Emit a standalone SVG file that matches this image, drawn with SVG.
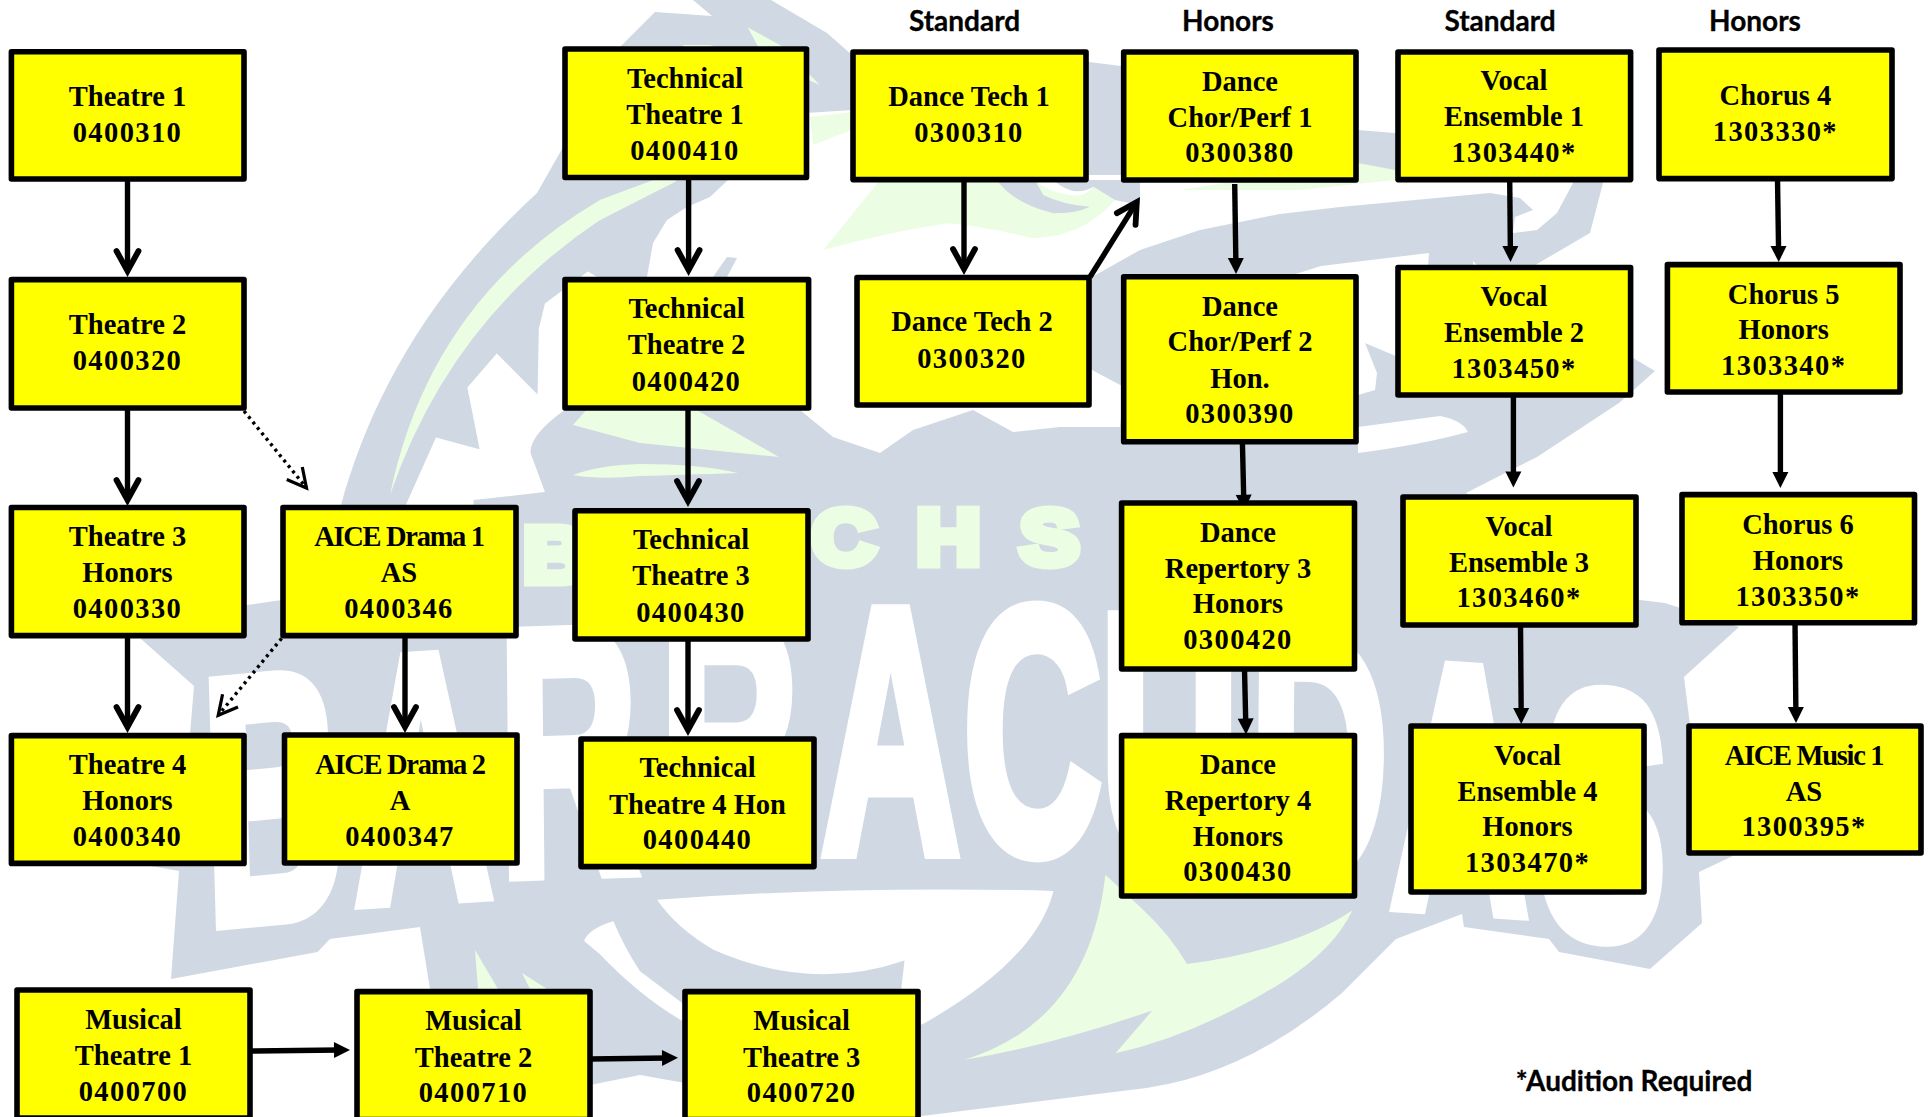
<svg xmlns="http://www.w3.org/2000/svg" width="1929" height="1117" viewBox="0 0 1929 1117">
<style>
.gray{fill:#d0d9e3}.wh{fill:#fff}.lime{fill:#ebfde3}
.box{fill:#ff0;stroke:#000;stroke-width:5.6;stroke-linejoin:round}
.t{font-family:"Liberation Serif",serif;font-weight:700;font-size:28.5px;text-anchor:middle;fill:#000;transform:translate(0,1px)}
.n{letter-spacing:1.4px}.a{letter-spacing:-1.3px}
.h{font-family:Lato,"Liberation Sans",sans-serif;font-weight:700;font-size:28px;text-anchor:middle;fill:#000;stroke:#000;stroke-width:.3px}
.c{fill:none;stroke:#000;stroke-width:5.4}
.o{marker-end:url(#open)}.f{marker-end:url(#fill)}
.d{fill:none;stroke:#000;stroke-width:3.4;stroke-dasharray:3 4;marker-end:url(#thin)}
.big{font-family:"Liberation Sans",sans-serif;font-weight:700;font-size:350px;fill:#fff;stroke:#fff;stroke-width:14}
.chs{font-family:"Liberation Sans",sans-serif;font-weight:700;font-size:77px;fill:#ebfde3;stroke:#ebfde3;stroke-width:9}
</style>
<defs>
<marker id="open" markerUnits="userSpaceOnUse" markerWidth="40" markerHeight="40" viewBox="0 0 40 40" refX="24" refY="20" orient="auto" overflow="visible"><path d="M4,9 L24,20 L4,31" fill="none" stroke="#000" stroke-width="5.8" stroke-linecap="round"/></marker>
<marker id="thin" markerUnits="userSpaceOnUse" markerWidth="40" markerHeight="40" viewBox="0 0 40 40" refX="24" refY="20" orient="auto" overflow="visible"><path d="M5,10 L24,20 L5,30" fill="none" stroke="#000" stroke-width="3.2"/></marker>
<marker id="fill" markerUnits="userSpaceOnUse" markerWidth="24" markerHeight="20" viewBox="0 0 24 20" refX="6" refY="10" orient="auto" overflow="visible"><path d="M0,2 L16,10 L0,18 Z" fill="#000"/></marker>
</defs>
<rect width="1929" height="1117" fill="#fff"/>
<g id="logo">
<path class="gray" d="M537,193 L620,47 L655,12 L712,16 L693,0 L771,0 L827,33 L860,62 L1089,62 L1121,66 L1358,130 L1395,133 L1574,150 L1603,183 L1590,233 L1537,264 L1500,300 L1633,358 L1655,371 L1619,403 L1537,457 L1466,493 L1600,590 L1640,600 L1665,603 L1739,627 L1684,677 L1690,725 L1735,855 L1699,872 L1702,923 L1650,969 L1559,952 L1549,939 L1464,927 L1462,914 L1396,939 L1342,993 Q1240,1080 1130,1090 L922,1116 L800,1117 L685,1083 L640,1075 L590,1085 L500,1050 L430,989 L420,927 L330,939 L317.5,952 L171,979 L179,871 L151,866 L190,734 L194,686 L141,639 L141,620 L282,600 L335,595 L341,505 C367,411 420,300 537,193 Z"/>
<path class="wh" d="M647,277 L653,243 L667,220 L687,207 L710,197 L728,180 L728,175 L1573,175 L1573,183 L1557,213 L1537,230 L1513,233 L1515,217 L1533,210 L1520,198 L1490,193 L1340,207 L1280,214 L1200,230 L1140,250 L1092,277 L1080,290 L1080,350 L1092,370 L1124,387 L1120,427 L1060,427 L1013,432 L973,410 L913,430 L880,453 L833,437 L800,410 L660,400 Z"/>
<path class="wh" d="M806,113 L853,110 L853,182 L806,182 Z"/>
<path class="wh" d="M1280,279 L1321,266 L1429,253 L1428,267 L1473,267 L1473,261 L1480,268 L1398,300 L1398,357 L1365,343 L1377,373 L1375,390 L1358,395 L1300,395 Z"/>
<path class="wh" d="M1358,427 L1440,416 Q1462,420 1468,432 Q1420,445 1358,453 Z"/>
<g transform="translate(0,0) scale(.4082,.3571)"><path class="wh" d="M990,1425 L1068,1225 L1175,1258 L1145,1085 L1217,990 L1317,1105 L1320,920 L1335,850 L1440,760 L1500,800 L1500,1147 L1385,1147 Q1295,1220 1300,1270 L1335,1378 L1160,1400 L1160,1425 Z"/></g>
<g transform="translate(640,557) scale(.4082,.3571)">
<path class="wh" d="M42,960 Q500,920 1013,935 Q970,1130 690,1310 L640,1210 L648,1130 Q420,1220 180,1100 Q90,1040 42,960 Z"/>
<path class="wh" d="M-65,1020 Q-40,1090 0,1160 L105,1250 L105,1300 Q0,1230 -100,1110 L-137,1075 Q-125,1040 -65,1020 Z"/>
<path class="lime" d="M1140,890 L1230,985 Q1300,1060 1340,1140 Q1600,1100 1745,990 Q1700,1100 1568,1195 Q1360,1340 1165,1390 L1255,1270 Q1000,1370 795,1408 Q1100,1300 1140,890 Z"/>
</g>
<text class="big" transform="scale(.55,1)" x="376 645 909 1200 1493 1751 2000 2269 2527 2793" y="925 903 875 860 852 852 858 875 905 930" rotate="-3 -2 -1 0 0 0 0 1 2 3">BARRACUDAS</text>
<text class="chs" transform="scale(1.15,1)" x="455 706 797 887" y="582 564 564 564">BCHS</text>
<g class="lime">
<path d="M390,495 Q430,300 600,200 L655,180 L677,181 L600,220 Q450,320 390,495 Z"/>
<path d="M573,425 L588,408 L693,408 L779,457 L640,443 Z"/>
<path d="M573,475 Q600,465 640,464 Q700,464 738,473 Q680,475 640,476 Q600,480 573,475 Z"/>
<path d="M810,117 L852,112 L852,130 L813,145 Z"/>
<path d="M1180,190 L1358,163 L1395,170 L1395,180 L1300,190 Z"/>
<path d="M475,950 L498,989 L478,989 Z M522,973 L547,989 L530,989 Z"/>
<g transform="translate(600,0) scale(.3333)"><path d="M443,82 L540,135 L660,255 L625,240 L625,150 L480,150 Z M250,135 L330,135 L370,150 L250,150 Z M0,600 L160,540 L230,540 L0,660 Z"/></g>
<g transform="translate(800,170) scale(.3333)"><path d="M240,30 L70,240 Q250,190 440,160 Q530,165 700,205 Q850,200 945,90 L880,50 Q850,85 810,75 Q740,65 705,30 Z"/></g>
</g>
<g class="gray">
<g transform="translate(800,170) scale(.3333)"><path d="M590,30 Q640,100 760,130 Q830,130 870,110 Q790,105 730,75 L705,30 Z M760,30 Q820,85 880,50 L870,30 Z M870,30 L880,50 L945,90 L1020,105 L1020,30 Z"/></g>
<path d="M727,257 L737,258 L727,277 L713,277 Z"/>
</g>
</g>
<g id="connectors">
<line class="c o" x1="127.5" y1="179" x2="127.5" y2="271"/>
<line class="c o" x1="127.5" y1="408" x2="127.5" y2="500"/>
<line class="c o" x1="127.5" y1="636" x2="127.5" y2="727"/>
<line class="c o" x1="405" y1="636" x2="405" y2="727"/>
<line class="c o" x1="688.6" y1="178" x2="688.6" y2="270"/>
<line class="c o" x1="688" y1="408" x2="688" y2="501"/>
<line class="c o" x1="688" y1="639" x2="688" y2="730"/>
<line class="c o" x1="964" y1="180" x2="964" y2="269"/>
<line class="c o" x1="1090" y1="277" x2="1136.8" y2="202"/>
<line class="d" x1="244" y1="411" x2="306.5" y2="488"/>
<line class="d" x1="281.6" y1="638.4" x2="218.2" y2="715.3"/>
<line class="c f" x1="1234.7" y1="184" x2="1235.9" y2="264"/>
<line class="c f" x1="1242.4" y1="442" x2="1243.8" y2="500.7"/>
<line class="c f" x1="1244.5" y1="669" x2="1245.8" y2="724.5"/>
<line class="c f" x1="1509.7" y1="178" x2="1510.4" y2="252"/>
<line class="c f" x1="1513.4" y1="395" x2="1513.4" y2="477.5"/>
<line class="c f" x1="1520.5" y1="625" x2="1521.2" y2="714"/>
<line class="c f" x1="1777.5" y1="178" x2="1778.6" y2="252"/>
<line class="c f" x1="1780.4" y1="392" x2="1780.4" y2="478"/>
<line class="c f" x1="1795" y1="622" x2="1795.9" y2="713"/>
<line class="c f" x1="250" y1="1051" x2="340" y2="1050"/>
<line class="c f" x1="590" y1="1059" x2="668" y2="1058"/>
</g>
<g id="headers">
<text class="h" x="964.5" y="31">Standard</text>
<text class="h" x="1228" y="31">Honors</text>
<text class="h" x="1500" y="31">Standard</text>
<text class="h" x="1755" y="31">Honors</text>
<text class="h" x="1634" y="1091">*Audition Required</text>
</g>
<g id="theatre1"><rect class="box" x="11.4" y="51.8" width="232.6" height="127.2"/><text class="t"><tspan x="127.5" y="104.6">Theatre 1</tspan><tspan class="n" x="127.5" y="141">0400310</tspan></text></g>
<g id="theatre2"><rect class="box" x="11.4" y="279.6" width="232.6" height="128.4"/><text class="t"><tspan x="127.5" y="333">Theatre 2</tspan><tspan class="n" x="127.5" y="369">0400320</tspan></text></g>
<g id="theatre3"><rect class="box" x="11.4" y="507.5" width="232.6" height="128.1"/><text class="t"><tspan x="127.5" y="544.6">Theatre 3</tspan><tspan x="127.5" y="581">Honors</tspan><tspan class="n" x="127.5" y="617">0400330</tspan></text></g>
<g id="theatre4"><rect class="box" x="11.4" y="735.6" width="232.6" height="127.8"/><text class="t"><tspan x="127.5" y="773">Theatre 4</tspan><tspan x="127.5" y="809">Honors</tspan><tspan class="n" x="127.5" y="845">0400340</tspan></text></g>
<g id="aice-drama1"><rect class="box" x="283" y="507.5" width="233" height="128.1"/><text class="t"><tspan class="a" x="399" y="545">AICE Drama 1</tspan><tspan x="399" y="581">AS</tspan><tspan class="n" x="399" y="617">0400346</tspan></text></g>
<g id="aice-drama2"><rect class="box" x="284.5" y="735" width="232.5" height="128"/><text class="t"><tspan class="a" x="400" y="773">AICE Drama 2</tspan><tspan x="400" y="809">A</tspan><tspan class="n" x="400" y="845">0400347</tspan></text></g>
<g id="musical1"><rect class="box" x="17" y="990" width="233" height="128"/><text class="t"><tspan x="133.5" y="1027.7">Musical</tspan><tspan x="133.5" y="1064">Theatre 1</tspan><tspan class="n" x="133.5" y="1100">0400700</tspan></text></g>
<g id="musical2"><rect class="box" x="357" y="991.6" width="233" height="128"/><text class="t"><tspan x="473.5" y="1029">Musical</tspan><tspan x="473.5" y="1065.5">Theatre 2</tspan><tspan class="n" x="473.5" y="1101">0400710</tspan></text></g>
<g id="musical3"><rect class="box" x="685" y="991.6" width="233" height="128"/><text class="t"><tspan x="801.6" y="1029">Musical</tspan><tspan x="801.6" y="1065.5">Theatre 3</tspan><tspan class="n" x="801.6" y="1101">0400720</tspan></text></g>
<g id="tech1"><rect class="box" x="565" y="49" width="241.5" height="128.5"/><text class="t"><tspan x="685" y="87">Technical</tspan><tspan x="685" y="123">Theatre 1</tspan><tspan class="n" x="685" y="158.6">0400410</tspan></text></g>
<g id="tech2"><rect class="box" x="565" y="279.6" width="243.6" height="128.4"/><text class="t"><tspan x="686.5" y="317">Technical</tspan><tspan x="686.5" y="353">Theatre 2</tspan><tspan class="n" x="686.5" y="390">0400420</tspan></text></g>
<g id="tech3"><rect class="box" x="575" y="510.7" width="233" height="128.3"/><text class="t"><tspan x="691" y="548">Technical</tspan><tspan x="691" y="584">Theatre 3</tspan><tspan class="n" x="691" y="620.6">0400430</tspan></text></g>
<g id="tech4"><rect class="box" x="581" y="739" width="233" height="127.6"/><text class="t"><tspan x="697.5" y="775.6">Technical</tspan><tspan x="697.5" y="812.7">Theatre 4 Hon</tspan><tspan class="n" x="697.5" y="848">0400440</tspan></text></g>
<g id="dancetech1"><rect class="box" x="853" y="52" width="233" height="127.6"/><text class="t"><tspan x="969" y="104.6">Dance Tech 1</tspan><tspan class="n" x="969" y="141">0300310</tspan></text></g>
<g id="dancetech2"><rect class="box" x="857" y="277.5" width="232" height="127.5"/><text class="t"><tspan x="972" y="330">Dance Tech 2</tspan><tspan class="n" x="972" y="367">0300320</tspan></text></g>
<g id="dancechor1"><rect class="box" x="1123.7" y="52" width="232.3" height="128"/><text class="t"><tspan x="1240" y="90">Dance</tspan><tspan x="1240" y="125.7">Chor/Perf 1</tspan><tspan class="n" x="1240" y="161.4">0300380</tspan></text></g>
<g id="dancechor2"><rect class="box" x="1123.7" y="276.8" width="232.3" height="165"/><text class="t"><tspan x="1240" y="315">Dance</tspan><tspan x="1240" y="350">Chor/Perf 2</tspan><tspan x="1240" y="387">Hon.</tspan><tspan class="n" x="1240" y="422">0300390</tspan></text></g>
<g id="dancerep3"><rect class="box" x="1121.6" y="503" width="232.9" height="166"/><text class="t"><tspan x="1238" y="541">Dance</tspan><tspan x="1238" y="576.6">Repertory 3</tspan><tspan x="1238" y="612">Honors</tspan><tspan class="n" x="1238" y="648">0300420</tspan></text></g>
<g id="dancerep4"><rect class="box" x="1121.6" y="735.6" width="232.9" height="160.4"/><text class="t"><tspan x="1238" y="773">Dance</tspan><tspan x="1238" y="809">Repertory 4</tspan><tspan x="1238" y="844.5">Honors</tspan><tspan class="n" x="1238" y="880">0300430</tspan></text></g>
<g id="vocal1"><rect class="box" x="1398" y="52" width="232.6" height="127.6"/><text class="t"><tspan x="1514" y="88.6">Vocal</tspan><tspan x="1514" y="125">Ensemble 1</tspan><tspan class="n" x="1514" y="160.7">1303440*</tspan></text></g>
<g id="vocal2"><rect class="box" x="1398" y="267.5" width="232.6" height="127.5"/><text class="t"><tspan x="1514" y="304.6">Vocal</tspan><tspan x="1514" y="341">Ensemble 2</tspan><tspan class="n" x="1514" y="377">1303450*</tspan></text></g>
<g id="vocal3"><rect class="box" x="1403" y="497" width="233" height="128"/><text class="t"><tspan x="1519" y="534.6">Vocal</tspan><tspan x="1519" y="571">Ensemble 3</tspan><tspan class="n" x="1519" y="606">1303460*</tspan></text></g>
<g id="vocal4"><rect class="box" x="1411" y="726" width="233" height="166"/><text class="t"><tspan x="1527.5" y="764">Vocal</tspan><tspan x="1527.5" y="800">Ensemble 4</tspan><tspan x="1527.5" y="835">Honors</tspan><tspan class="n" x="1527.5" y="871">1303470*</tspan></text></g>
<g id="chorus4"><rect class="box" x="1659" y="50" width="233" height="128.6"/><text class="t"><tspan x="1775.4" y="104">Chorus 4</tspan><tspan class="n" x="1775.4" y="140">1303330*</tspan></text></g>
<g id="chorus5"><rect class="box" x="1667.4" y="264.6" width="232.6" height="127.4"/><text class="t"><tspan x="1783.7" y="302.5">Chorus 5</tspan><tspan x="1783.7" y="338">Honors</tspan><tspan class="n" x="1783.7" y="374">1303340*</tspan></text></g>
<g id="chorus6"><rect class="box" x="1682" y="494.6" width="232.5" height="128.1"/><text class="t"><tspan x="1798" y="533">Chorus 6</tspan><tspan x="1798" y="569">Honors</tspan><tspan class="n" x="1798" y="604.5">1303350*</tspan></text></g>
<g id="aice-music1"><rect class="box" x="1689" y="726" width="232" height="127"/><text class="t"><tspan class="a" x="1804" y="764">AICE Music 1</tspan><tspan x="1804" y="800">AS</tspan><tspan class="n" x="1804" y="835">1300395*</tspan></text></g>
</svg>
